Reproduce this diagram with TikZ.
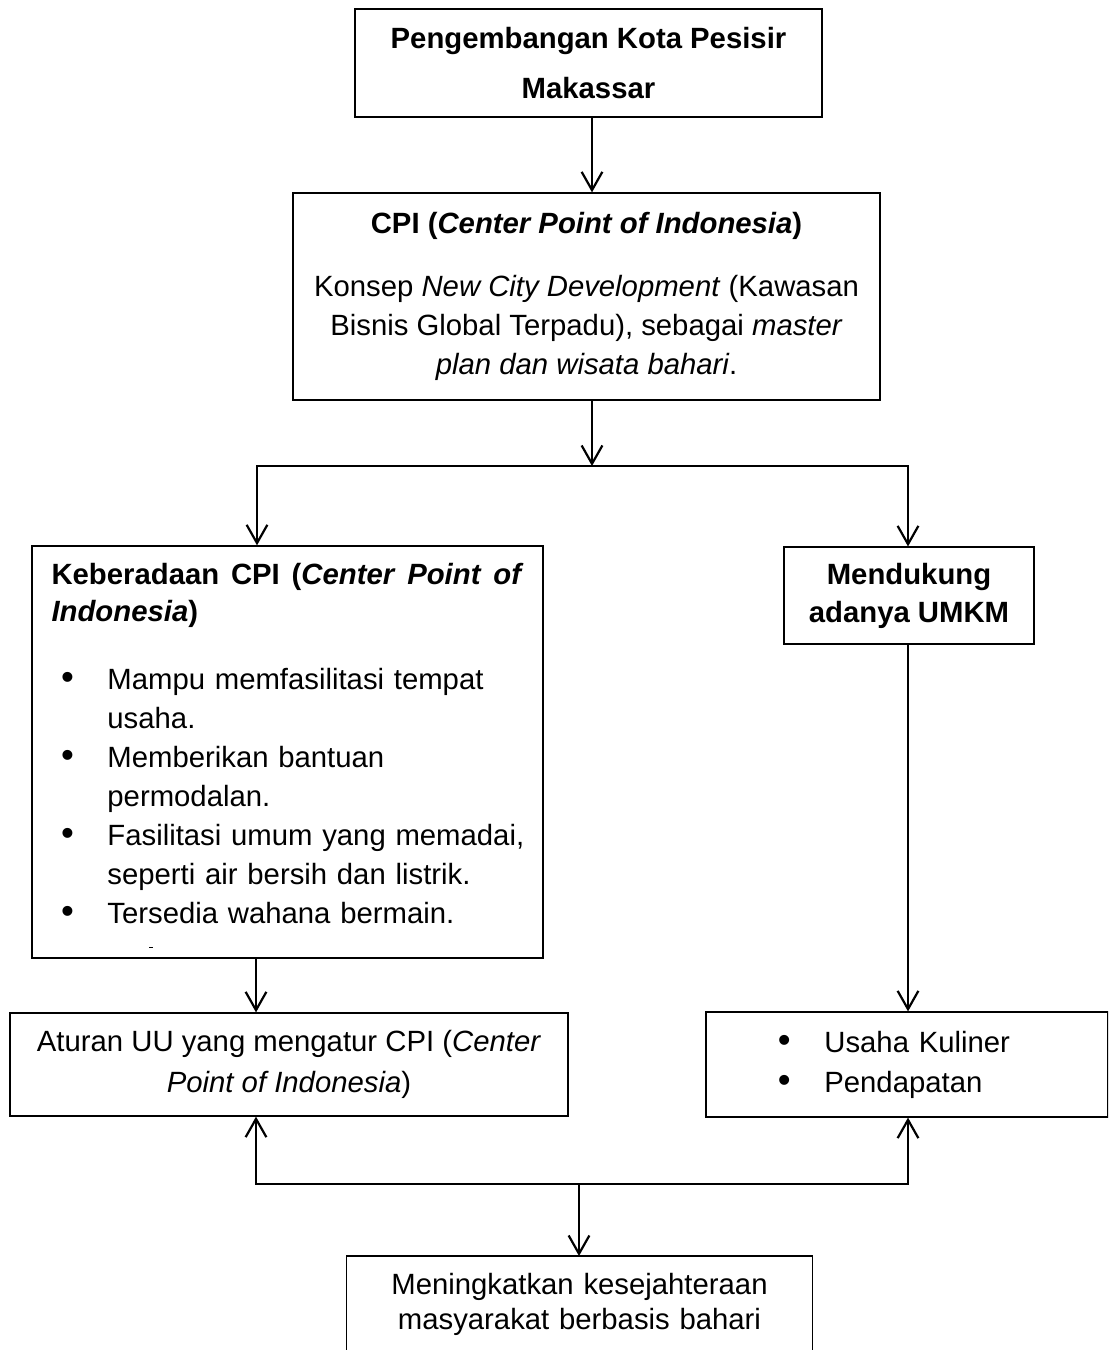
\documentclass[tikz,border=0pt]{standalone}
\usepackage{fontspec}
\setmainfont{Liberation Sans}
\usetikzlibrary{arrows.meta}
\setlength{\parindent}{0pt}
\newcommand{\mybul}[2]{\hspace*{#1}\makebox[#2][l]{\fontsize{15}{15}\selectfont\textbullet}}
\begin{document}
\begin{tikzpicture}[x=0.4096pt,y=-0.4096pt,
  box/.style={draw, line width=0.5pt, inner sep=0pt, align=center},
  conn/.style={line width=0.9pt},
  arr/.style={conn, -{Straight Barb[length=7.5pt,width=8.5pt]}}]
\useasboundingbox (0,0) rectangle (1108,1350);
\clip (0,0) rectangle (1108,1350);
\fill[white] (0,0) rectangle (1108,1350);

\node[box, minimum width=191.3pt, minimum height=44.2pt,
  font=\bfseries\fontsize{12}{20.5}\selectfont] (top) at (588.5,63)
  {Pengembangan Kota Pesisir\\Makassar};

\node[box, minimum width=240.4pt, minimum height=84.8pt,
  font=\fontsize{12}{16}\selectfont] (cpi) at (586.5,296.5)
  {\textbf{CPI (\textit{Center Point of Indonesia})}\\[9.6pt]
   Konsep \textit{New City Development} (Kawasan\\
   Bisnis Global Terpadu), sebagai \textit{master}\\
   \textit{plan dan wisata bahari}.};

\node[box, minimum width=209.3pt, minimum height=168.8pt, text width=193.3pt,
  inner xsep=8pt, align=left, font=\fontsize{12}{16}\selectfont] (kb) at (287.5,752)
  {\rule{0pt}{13.1pt}\makebox[193.3pt][l]{\bfseries Keberadaan\hfill CPI\hfill (\textit{Center}\hfill\textit{Point}\hfill\textit{of}}\\[-0.8pt]
   \textbf{\textit{Indonesia})}\\[11.9pt]
   \mybul{3.9pt}{19pt}\mbox{Mampu memfasilitasi tempat}\\
   \hspace*{22.9pt}\mbox{usaha.}\\
   \mybul{3.9pt}{19pt}\mbox{Memberikan bantuan}\\
   \hspace*{22.9pt}\mbox{permodalan.}\\
   \mybul{3.9pt}{19pt}\mbox{Fasilitasi umum yang memadai,}\\
   \hspace*{22.9pt}\mbox{seperti air bersih dan listrik.}\\
   \mybul{3.9pt}{19pt}\mbox{Tersedia wahana bermain.}\\[-4.5pt]
   \hspace*{40pt}\rule[1.5pt]{1.6pt}{0.5pt}};

\node[box, minimum width=102.4pt, minimum height=39.7pt,
  font=\bfseries\fontsize{12}{15.6}\selectfont] (umkm) at (909,595.5)
  {Mendukung\\adanya UMKM};

\node[box, minimum width=228.6pt, minimum height=42.2pt,
  font=\fontsize{12}{16.8}\selectfont] (atur) at (289,1064.5)
  {Aturan UU yang mengatur CPI (\textit{Center}\\\textit{Point of Indonesia})};

\node[box, minimum width=164.7pt, minimum height=43pt, text width=164.7pt,
  align=left, font=\fontsize{12}{16.4}\selectfont] (usaha) at (907,1064.5)
  {\mybul{29.5pt}{19pt}\mbox{Usaha Kuliner}\\
   \mybul{29.5pt}{19pt}\mbox{Pendapatan}};

\node[inner xsep=0pt, inner ysep=7pt, text width=190.5pt, align=center,
  anchor=north, font=\fontsize{12}{14.3}\selectfont] (bot) at (579.5,1256)
  {Meningkatkan kesejahteraan\\masyarakat berbasis bahari};
\draw[line width=0.5pt] ([yshift=-30pt]bot.south west) -- (bot.north west)
  -- (bot.north east) -- ([yshift=-30pt]bot.south east);

\coordinate (j) at (592,466);
\coordinate (jl) at (257,466);
\coordinate (jr) at (908,466);
\coordinate (bl) at (256,1184);
\coordinate (br) at (908,1184);
\coordinate (bm) at (579,1184);

\draw[arr] (top.south -| j) -- (cpi.north -| j);
\draw[arr] (cpi.south -| j) -- (j);
\draw[arr] (j) -- (jl) -- (kb.north -| jl);
\draw[arr] (j) -- (jr) -- (umkm.north -| jr);
\draw[arr] (kb.south -| bl) -- (atur.north -| bl);
\draw[arr] (umkm.south -| jr) -- (usaha.north -| jr);
\draw[arr] (bm) -- (bl) -- (atur.south -| bl);
\draw[arr] (bm) -- (br) -- (usaha.south -| br);
\draw[arr] (bm) -- (bot.north -| bm);
\end{tikzpicture}
\end{document}
